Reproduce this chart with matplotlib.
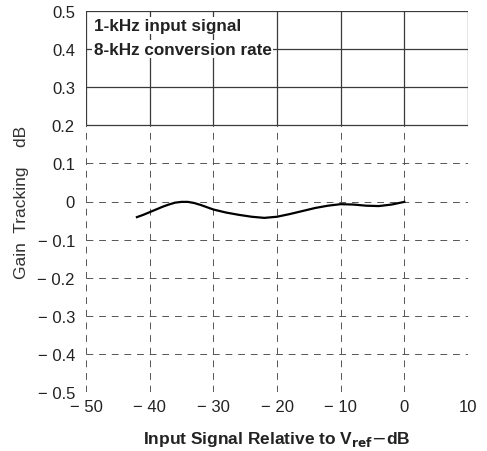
import matplotlib
matplotlib.use("Agg")
import matplotlib.pyplot as plt

# Data
input_db = [-42, -41, -40, -39, -38, -37, -36, -35, -34, -33, -32, -31, -30,
            -28, -26, -24, -22, -20, -18, -16, -14, -12, -10, -8, -6, -4, -2, 0]
gain_tracking = [-0.041, -0.035, -0.028, -0.021, -0.014, -0.008, -0.003, -0.001,
                 -0.001, -0.004, -0.009, -0.015, -0.021, -0.029, -0.035, -0.040,
                 -0.043, -0.040, -0.033, -0.025, -0.017, -0.011, -0.007, -0.008,
                 -0.011, -0.012, -0.008, -0.001]

x_ticks = [-50, -40, -30, -20, -10, 0, 10]
x_tick_labels = ["\u2212 50", "\u2212 40", "\u2212 30", "\u2212 20", "\u2212 10", "0", "10"]
y_ticks = [0.5, 0.4, 0.3, 0.2, 0.1, 0.0, -0.1, -0.2, -0.3, -0.4, -0.5]
y_tick_labels = ["0.5", "0.4", "0.3", "0.2", "0.1", "0", "\u2212 0.1", "\u2212 0.2",
                 "\u2212 0.3", "\u2212 0.4", "\u2212 0.5"]
notes = ["1-kHz input signal", "8-kHz conversion rate"]

plt.rcParams['font.family'] = ['Liberation Sans', 'DejaVu Sans']

fig = plt.figure(figsize=(4.87, 4.52), dpi=100)
ax = fig.add_axes([86/487, 1-393/452, (468-86)/487, (393-12)/452])
ax.set_xlim(-50, 10)
ax.set_ylim(-0.5, 0.5)

for s in ax.spines.values():
    s.set_visible(False)

# Grid: upper region more solid, lower region broken
for yv in y_ticks:
    if yv >= 0.2 - 1e-9:
        ax.axhline(yv, color="#3a3a3a", lw=0.9, zorder=1)
    else:
        ax.axhline(yv, color="#555555", lw=0.7, ls=(0, (7, 6)), zorder=1)
for xv in x_ticks:
    ax.plot([xv, xv], [0.2, 0.5], color="#3a3a3a", lw=0.9, zorder=1)
    ax.plot([xv, xv], [-0.5, 0.2], color="#555555", lw=0.7, ls=(0, (7, 6)), zorder=1)

ax.plot(input_db, gain_tracking, color="black", lw=1.6, zorder=3,
        solid_joinstyle="round")

ax.set_xticks(x_ticks)
ax.set_xticklabels(x_tick_labels)
ax.set_yticks(y_ticks)
ax.set_yticklabels(y_tick_labels)
ax.tick_params(axis="both", length=0, labelsize=12, colors="#222222")
ax.tick_params(axis="y", pad=8)
ax.tick_params(axis="x", pad=5)

ax.set_xlabel(r"Input Signal Relative to V$_{\mathbf{ref}}$$-$dB", fontsize=12.5,
              fontweight="bold", color="#222222", labelpad=11)
ax.set_ylabel("Gain  Tracking    dB", fontsize=12.5, color="#333333", labelpad=6)

ax.text(-48.8, 0.462, notes[0], fontsize=12.3, fontweight="bold", color="#222222",
        va="center", ha="left", zorder=4,
        bbox=dict(facecolor="white", edgecolor="none", pad=1))
ax.text(-48.8, 0.400, notes[1], fontsize=12.3, fontweight="bold", color="#222222",
        va="center", ha="left", zorder=4,
        bbox=dict(facecolor="white", edgecolor="none", pad=1))

fig.savefig("out.png", dpi=100)
